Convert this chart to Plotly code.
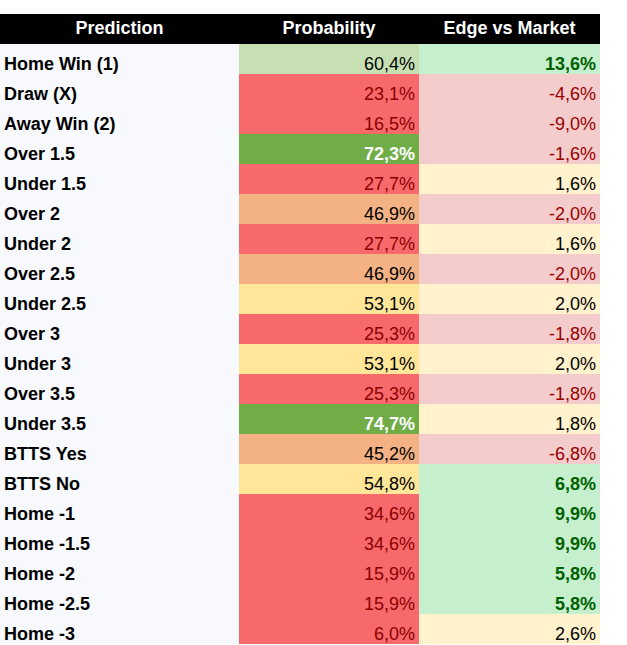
import plotly.graph_objects as go

headers = ["Prediction", "Probability", "Edge vs Market"]
predictions = ["Home Win (1)", "Draw (X)", "Away Win (2)", "Over 1.5", "Under 1.5",
               "Over 2", "Under 2", "Over 2.5", "Under 2.5", "Over 3", "Under 3",
               "Over 3.5", "Under 3.5", "BTTS Yes", "BTTS No", "Home -1", "Home -1.5",
               "Home -2", "Home -2.5", "Home -3"]
probability = [60.4, 23.1, 16.5, 72.3, 27.7, 46.9, 27.7, 46.9, 53.1, 25.3, 53.1,
               25.3, 74.7, 45.2, 54.8, 34.6, 34.6, 15.9, 15.9, 6.0]
edge = [13.6, -4.6, -9.0, -1.6, 1.6, -2.0, 1.6, -2.0, 2.0, -1.8, 2.0,
        -1.8, 1.8, -6.8, 6.8, 9.9, 9.9, 5.8, 5.8, 2.6]

# column widths in px, table drawn on a pixel-like x axis
col_w = [239, 180, 181]
col_x0 = [0, col_w[0], col_w[0] + col_w[1]]
PAD = 4
TEXT_DROP = 0.2  # body text sits a bit below row centre (in row units)
FONT = "Liberation Sans"


def pct(v):
    return f"{v:.1f}%".replace(".", ",")


def prob_style(p):
    # background, text colour, bold
    if p >= 70:
        return "#70ad47", "white", True
    if p >= 55:
        return "#c6e0b4", "black", False
    if p >= 50:
        return "#ffe699", "black", False
    if p >= 40:
        return "#f4b183", "black", False
    return "#f8696b", "#8b0000", False


def edge_style(e):
    if e >= 5:
        return "#c6efce", "#006100", True
    if e < 0:
        return "#f4cccc", "#990000", False
    return "#fff2cc", "black", False


def styled(values, style):
    fills, fonts, texts = [], [], []
    for v in values:
        bg, fc, b = style(v)
        fills.append(bg)
        fonts.append(fc)
        texts.append(f"<b>{pct(v)}</b>" if b else pct(v))
    return fills, fonts, texts


p_fill, p_font, p_text = styled(probability, prob_style)
e_fill, e_font, e_text = styled(edge, edge_style)

n = len(predictions)
row_y = list(range(n + 1))            # 0 = header row
body_y = [y + TEXT_DROP for y in row_y[1:]]

fig = go.Figure()

# cell backgrounds
col_fills = [["#f8f9fc"] * n, p_fill, e_fill]
for i in range(3):
    fig.add_trace(go.Bar(
        orientation="h", y=row_y, x=[col_w[i]] * (n + 1), base=[col_x0[i]] * (n + 1),
        marker=dict(color=["black"] + col_fills[i], line=dict(width=0)),
        width=1, hoverinfo="skip", showlegend=False,
    ))

# header text
fig.add_trace(go.Scatter(
    x=[col_x0[i] + col_w[i] / 2 for i in range(3)], y=[0] * 3,
    mode="text", text=[f"<b>{h}</b>" for h in headers], textposition="middle center",
    textfont=dict(family=FONT, size=18, color="white"),
    hoverinfo="skip", showlegend=False, cliponaxis=False,
))

# prediction names
fig.add_trace(go.Scatter(
    x=[PAD] * n, y=body_y, mode="text",
    text=[f"<b>{p}</b>" for p in predictions], textposition="middle right",
    textfont=dict(family=FONT, size=18, color="black"),
    hoverinfo="skip", showlegend=False, cliponaxis=False,
))

# probability and edge values, right aligned
for i, texts, fonts in [(1, p_text, p_font), (2, e_text, e_font)]:
    fig.add_trace(go.Scatter(
        x=[col_x0[i] + col_w[i] - PAD] * n, y=body_y, mode="text",
        text=texts, textposition="middle left",
        textfont=dict(family=FONT, size=18, color=fonts),
        hoverinfo="skip", showlegend=False, cliponaxis=False,
    ))

fig.update_layout(
    width=627, height=645,
    margin=dict(l=0, r=0, t=14, b=1),
    paper_bgcolor="white", plot_bgcolor="white",
    barmode="overlay", bargap=0,
    xaxis=dict(range=[0, 627], visible=False, fixedrange=True),
    yaxis=dict(range=[n + 0.5, -0.5], visible=False, fixedrange=True),
)

fig.write_html("out.html", config={"displayModeBar": False},
               post_script="document.body.style.margin='0';")
